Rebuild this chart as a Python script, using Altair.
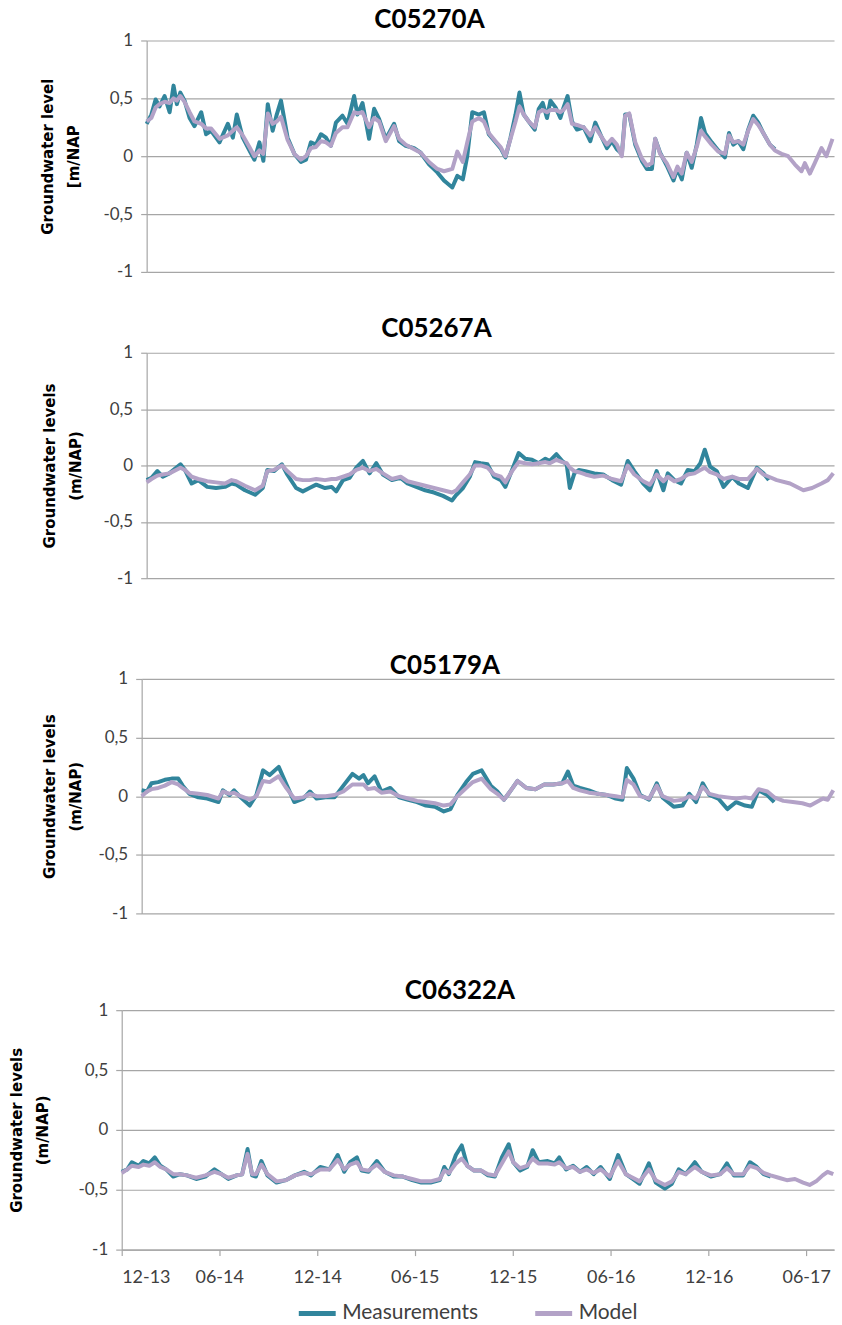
import altair as alt
import pandas as pd

# ---------------- data (x = months since 1 Dec 2013, y = m NAP) ----------------
SERIES = ["Measurements", "Model"]
COLORS = ["#31859C", "#B3A2C7"]
PANELS = ["C05270A", "C05267A", "C05179A", "C06322A"]
X_TICKS = ["12-13", "06-14", "12-14", "06-15", "12-15", "06-16", "12-16", "06-17"]
Y_TICKS = [-1, -0.5, 0, 0.5, 1]

p1_month = [0, 0.3, 0.57, 0.82, 1.14, 1.46, 1.71, 1.92, 2.14, 2.41,
            2.73, 3.04, 3.47, 3.78, 4.1, 4.63, 5.16, 5.48, 5.73, 6.11,
            6.53, 6.85, 7.17, 7.42, 7.70, 8.01, 8.27, 8.54, 8.96, 9.39,
            9.81, 10.13, 10.44, 10.76, 11.08, 11.4, 11.71, 12.03, 12.45, 12.77,
            13.19, 13.40, 13.72, 14.14, 14.46, 14.78, 15.2, 15.73, 16.05, 16.47,
            17.0, 17.42, 17.95, 18.48, 18.9, 19.43, 19.75, 20.1, 20.38, 20.7,
            21.12, 21.44, 21.75, 22.18, 22.5, 22.81, 23.13, 23.45, 23.7, 23.97,
            24.29, 24.67, 24.93, 25.18, 25.45, 25.67, 26.0, 26.3, 26.5, 26.76,
            27.04, 27.36, 27.78, 28.2, 28.52, 28.94, 29.26, 29.58, 29.89, 30.21,
            30.42, 30.68, 31.06, 31.48, 31.8, 32.12, 32.33, 32.64, 33.06, 33.49,
            33.74, 34.02, 34.33, 34.65, 34.97, 35.24, 35.5, 35.92, 36.34, 36.76,
            37.02, 37.29, 37.61, 37.93, 38.24, 38.56, 38.88, 39.2, 39.62, 39.94,
            40.36, 40.78, 41.2, 41.63, 41.84, 42.16, 42.47, 42.9, 43.21, 43.6]
p1_meas = [0.28, 0.36, 0.49, 0.43, 0.52, 0.38, 0.61, 0.45, 0.55, 0.48,
           0.33, 0.26, 0.38, 0.19, 0.22, 0.12, 0.28, 0.16, 0.36, 0.16,
           0.05, -0.03, 0.12, -0.04, 0.45, 0.22, 0.36, 0.48, 0.16, 0.02,
           -0.05, -0.03, 0.12, 0.10, 0.19, 0.16, 0.09, 0.29, 0.35, 0.28,
           0.52, 0.36, 0.46, 0.15, 0.41, 0.32, 0.15, 0.28, 0.13, 0.09,
           0.07, 0.03, -0.07, -0.14, -0.21, -0.27, -0.17, -0.2, 0.0, 0.38,
           0.36, 0.38, 0.19, 0.12, 0.07, -0.01, 0.16, 0.36, 0.55, 0.36,
           0.30, 0.23, 0.41, 0.46, 0.33, 0.48, 0.42, 0.33, 0.42, 0.52,
           0.30, 0.23, 0.25, 0.13, 0.29, 0.16, 0.07, 0.13, 0.06, 0.02,
           0.36, 0.36, 0.10, -0.04, -0.11, -0.11, 0.15, 0.03, -0.08, -0.21,
           -0.11, -0.2, 0.03, -0.1, 0.1, 0.33, 0.2, 0.12, 0.05, -0.01,
           0.2, 0.1, 0.13, 0.06, 0.23, 0.35, 0.29, 0.2, 0.10, 0.06,
           None, None, None, None, None, None, None, None, None, None]
p1_model = [0.30, 0.33, 0.42, 0.45, 0.47, 0.46, 0.50, 0.48, 0.52, 0.47,
            0.38, 0.30, 0.28, 0.24, 0.24, 0.15, 0.18, 0.22, 0.25, 0.18,
            0.08, 0.00, 0.05, 0.02, 0.37, 0.28, 0.30, 0.34, 0.14, 0.02,
            -0.03, 0.00, 0.07, 0.08, 0.13, 0.12, 0.09, 0.20, 0.25, 0.25,
            0.38, 0.37, 0.38, 0.25, 0.33, 0.30, 0.13, 0.26, 0.15, 0.10,
            0.06, 0.03, -0.05, -0.11, -0.13, -0.11, 0.04, -0.05, 0.12, 0.30,
            0.33, 0.30, 0.20, 0.13, 0.08, 0.00, 0.15, 0.30, 0.43, 0.36,
            0.30, 0.25, 0.38, 0.40, 0.38, 0.40, 0.40, 0.38, 0.40, 0.45,
            0.28, 0.27, 0.25, 0.18, 0.25, 0.16, 0.10, 0.15, 0.10, 0.00,
            0.35, 0.37, 0.12, -0.02, -0.08, -0.06, 0.15, 0.02, -0.06, -0.18,
            -0.09, -0.15, 0.03, -0.05, 0.08, 0.22, 0.17, 0.10, 0.04, 0.02,
            0.18, 0.12, 0.13, 0.10, 0.22, 0.32, 0.27, 0.20, 0.10, 0.05,
            0.02, 0.00, -0.07, -0.13, -0.06, -0.15, -0.06, 0.07, 0.00, 0.15]

p2_month = [0, 0.31, 0.68, 1.02, 1.44, 2.15, 2.43, 2.86, 3.28, 3.85,
            4.41, 4.98, 5.4, 5.69, 6.25, 6.9, 7.38, 7.67, 8.09, 8.6,
            8.94, 9.5, 9.93, 10.35, 10.78, 11.34, 11.76, 12.05, 12.48, 12.9,
            13.32, 13.75, 14.17, 14.6, 15.02, 15.59, 16.15, 16.58, 17.14, 17.71,
            18.27, 18.84, 19.41, 19.69, 20.11, 20.54, 20.88, 21.24, 21.67, 22.09,
            22.52, 22.8, 23.23, 23.65, 24.07, 24.5, 24.92, 25.35, 25.63, 26.05,
            26.42, 26.7, 26.9, 27.19, 27.47, 27.89, 28.46, 29.02, 29.59, 30.16,
            30.58, 31.0, 31.57, 31.99, 32.42, 32.85, 33.13, 33.55, 33.97, 34.4,
            34.83, 35.2, 35.48, 35.82, 36.24, 36.67, 37.23, 37.65, 38.22, 38.79,
            39.21, 39.55,
            40.06, 40.9, 41.75, 42.3, 42.9, 43.3, 43.65]
p2_meas = [-0.13, -0.11, -0.05, -0.10, -0.07, 0.01, -0.04, -0.16, -0.13, -0.19,
           -0.20, -0.19, -0.16, -0.17, -0.22, -0.26, -0.20, -0.04, -0.05, 0.01,
           -0.08, -0.20, -0.23, -0.20, -0.17, -0.20, -0.19, -0.23, -0.13, -0.11,
           -0.02, 0.04, -0.07, 0.02, -0.08, -0.13, -0.11, -0.16, -0.19, -0.22,
           -0.24, -0.27, -0.31, -0.26, -0.20, -0.10, 0.03, 0.02, 0.01, -0.10,
           -0.13, -0.19, -0.04, 0.11, 0.06, 0.05, 0.02, 0.06, 0.04, 0.10,
           0.04, 0.01, -0.20, -0.07, -0.04, -0.05, -0.07, -0.08, -0.13, -0.17,
           0.04, -0.05, -0.16, -0.22, -0.05, -0.22, -0.07, -0.13, -0.16, -0.04,
           -0.05, 0.02, 0.14, -0.01, -0.05, -0.19, -0.10, -0.16, -0.20, -0.02,
           -0.07, -0.13,
           None, None, None, None, None, None, None]
p2_model = [-0.15, -0.12, -0.09, -0.08, -0.07, -0.02, -0.04, -0.10, -0.12, -0.14,
            -0.15, -0.16, -0.13, -0.14, -0.18, -0.22, -0.18, -0.05, -0.04, 0.00,
            -0.05, -0.12, -0.13, -0.13, -0.12, -0.13, -0.12, -0.12, -0.10, -0.08,
            -0.04, -0.02, -0.05, -0.03, -0.07, -0.12, -0.10, -0.14, -0.16, -0.18,
            -0.20, -0.22, -0.24, -0.22, -0.15, -0.08, 0.00, 0.00, -0.02, -0.08,
            -0.10, -0.15, -0.05, 0.03, 0.02, 0.01, 0.02, 0.03, 0.02, 0.05,
            0.03, 0.02, -0.02, -0.05, -0.06, -0.08, -0.10, -0.09, -0.12, -0.14,
            0.00, -0.08, -0.14, -0.17, -0.08, -0.14, -0.10, -0.14, -0.12, -0.08,
            -0.07, -0.04, -0.02, -0.06, -0.08, -0.12, -0.10, -0.12, -0.12, -0.03,
            -0.08, -0.10,
            -0.13, -0.16, -0.22, -0.20, -0.16, -0.13, -0.07]

p3_month = [0, 0.34, 0.62, 1.04, 1.46, 1.89, 2.31, 2.59, 3.01, 3.58,
            4.14, 4.85, 5.13, 5.55, 5.83, 6.25, 6.82, 7.24, 7.66, 8.08,
            8.65, 9.07, 9.63, 10.2, 10.62, 11.04, 11.61, 12.17, 12.73, 13.3,
            13.72, 14.0, 14.28, 14.7, 15.13, 15.69, 16.25, 16.82, 17.38, 17.94,
            18.51, 19.07, 19.49, 19.92, 20.48, 20.9, 21.46, 22.03, 22.45, 22.87,
            23.3, 23.72, 24.28, 24.85, 25.41, 25.97, 26.54, 26.9, 27.24, 27.66,
            28.23, 28.79, 29.35, 29.92, 30.34, 30.62, 31.04, 31.46, 32.03, 32.51,
            32.87, 33.58, 34.14, 34.56, 34.99, 35.41, 35.83, 36.39, 36.96, 37.52,
            38.08, 38.51, 38.93, 39.49, 39.92,
            40.5, 41.1, 41.7, 42.2, 42.6, 43.0, 43.3, 43.65]
p3_meas = [0.05, 0.04, 0.11, 0.12, 0.14, 0.15, 0.15, 0.09, 0.02, -0.01,
           -0.02, -0.05, 0.05, 0.01, 0.05, -0.01, -0.08, 0.01, 0.22, 0.18,
           0.25, 0.12, -0.05, -0.02, 0.04, -0.02, -0.01, -0.01, 0.09, 0.19,
           0.15, 0.18, 0.11, 0.17, 0.04, 0.07, -0.01, -0.03, -0.05, -0.08,
           -0.09, -0.13, -0.11, 0.01, 0.12, 0.19, 0.22, 0.09, 0.04, -0.03,
           0.05, 0.13, 0.07, 0.06, 0.10, 0.10, 0.11, 0.21, 0.09, 0.07,
           0.05, 0.02, 0.01, -0.02, -0.03, 0.24, 0.15, 0.01, -0.03, 0.11,
           -0.01, -0.09, -0.08, 0.02, -0.05, 0.11, 0.01, -0.02, -0.11, -0.05,
           -0.08, -0.09, 0.05, 0.01, -0.05,
           None, None, None, None, None, None, None, None]
p3_model = [0.00, 0.04, 0.06, 0.07, 0.09, 0.12, 0.10, 0.07, 0.03, 0.02,
            0.01, -0.02, 0.04, 0.02, 0.03, 0.00, -0.03, 0.00, 0.13, 0.12,
            0.17, 0.08, -0.02, -0.01, 0.02, 0.00, 0.00, 0.01, 0.04, 0.10,
            0.10, 0.10, 0.06, 0.07, 0.03, 0.04, 0.00, -0.02, -0.04, -0.05,
            -0.06, -0.08, -0.07, 0.00, 0.07, 0.12, 0.15, 0.06, 0.02, -0.03,
            0.05, 0.13, 0.07, 0.06, 0.10, 0.10, 0.11, 0.13, 0.07, 0.05,
            0.03, 0.02, 0.01, 0.00, -0.01, 0.14, 0.10, 0.00, -0.02, 0.09,
            0.00, -0.04, -0.03, 0.00, -0.02, 0.08, 0.02, 0.00, -0.01, -0.02,
            -0.01, -0.02, 0.06, 0.04, -0.01,
            -0.04, -0.05, -0.06, -0.08, -0.05, -0.02, -0.03, 0.05]

p4_month = [0, 0.34, 0.62, 1.04, 1.33, 1.69, 2.03, 2.37, 2.73, 3.16,
            3.58, 4.0, 4.57, 5.13, 5.69, 6.12, 6.54, 7.05, 7.39, 7.72,
            8.0, 8.23, 8.57, 8.94, 9.5, 10.06, 10.63, 11.19, 11.62, 12.18,
            12.74, 13.25, 13.65, 14.01, 14.43, 14.72, 15.14, 15.65, 16.13, 16.69,
            17.25, 17.82, 18.38, 18.95, 19.51, 19.79, 20.07, 20.5, 20.86, 21.2,
            21.62, 22.05, 22.47, 22.89, 23.32, 23.74, 24.02, 24.44, 24.87, 25.21,
            25.57, 26.13, 26.56, 26.84, 27.26, 27.69, 28.11, 28.53, 28.95, 29.38,
            29.94, 30.45, 30.93, 31.35, 31.77, 32.34, 32.76, 33.32, 33.75, 34.17,
            34.59, 35.16, 35.58, 36.14, 36.71, 37.13, 37.55, 38.12, 38.54, 38.96,
            39.38, 39.81,
            40.3, 40.8, 41.3, 41.8, 42.2, 42.6, 43.0, 43.3, 43.65]
p4_meas = [-0.35, -0.33, -0.27, -0.30, -0.26, -0.28, -0.23, -0.30, -0.33, -0.39,
           -0.37, -0.38, -0.41, -0.39, -0.33, -0.37, -0.41, -0.38, -0.37, -0.16,
           -0.38, -0.39, -0.26, -0.38, -0.44, -0.42, -0.38, -0.35, -0.38, -0.31,
           -0.33, -0.21, -0.35, -0.27, -0.23, -0.34, -0.35, -0.26, -0.35, -0.39,
           -0.39, -0.42, -0.44, -0.44, -0.42, -0.31, -0.37, -0.21, -0.13, -0.30,
           -0.34, -0.34, -0.38, -0.39, -0.23, -0.12, -0.27, -0.34, -0.31, -0.17,
           -0.27, -0.26, -0.28, -0.23, -0.33, -0.30, -0.35, -0.31, -0.37, -0.31,
           -0.41, -0.21, -0.37, -0.41, -0.45, -0.28, -0.44, -0.49, -0.45, -0.33,
           -0.37, -0.27, -0.35, -0.39, -0.37, -0.28, -0.38, -0.38, -0.27, -0.31,
           -0.37, -0.39,
           None, None, None, None, None, None, None, None, None]
p4_model = [-0.36, -0.33, -0.30, -0.31, -0.29, -0.30, -0.27, -0.31, -0.33, -0.37,
            -0.37, -0.38, -0.40, -0.38, -0.35, -0.37, -0.40, -0.38, -0.37, -0.20,
            -0.37, -0.37, -0.29, -0.37, -0.43, -0.42, -0.38, -0.36, -0.37, -0.33,
            -0.33, -0.25, -0.33, -0.29, -0.27, -0.33, -0.34, -0.29, -0.35, -0.38,
            -0.39, -0.41, -0.43, -0.43, -0.41, -0.34, -0.36, -0.28, -0.24, -0.30,
            -0.34, -0.34, -0.37, -0.38, -0.28, -0.18, -0.27, -0.32, -0.30, -0.24,
            -0.28, -0.28, -0.29, -0.27, -0.32, -0.31, -0.35, -0.33, -0.36, -0.33,
            -0.39, -0.26, -0.37, -0.40, -0.43, -0.33, -0.42, -0.46, -0.43, -0.35,
            -0.37, -0.31, -0.35, -0.38, -0.37, -0.32, -0.37, -0.37, -0.30, -0.32,
            -0.36, -0.38,
            -0.40, -0.42, -0.41, -0.44, -0.46, -0.43, -0.38, -0.35, -0.37]

# ---------------- helpers ----------------
START = pd.Timestamp("2013-12-01")
DAYS_PER_MONTH = 30.4375
GRID = "#A6A6A6"
LABEL = "#404040"
SPACER_DF = pd.DataFrame({"v": [0]})


def frame(months, values, series):
    rows = [(START + pd.Timedelta(days=m * DAYS_PER_MONTH), v)
            for m, v in zip(months, values) if v is not None]
    return pd.DataFrame({"date": [r[0] for r in rows],
                         "value": [r[1] for r in rows],
                         "series": series})


tick_dates = [alt.DateTime(year=2013 + (11 + 6 * i) // 12,
                           month=(11 + 6 * i) % 12 + 1, date=1)
              for i in range(len(X_TICKS))]
x_scale = alt.Scale(domain=[alt.DateTime(year=2013, month=12, date=1),
                            alt.DateTime(year=2017, month=7, date=23)])
color_scale = alt.Scale(domain=SERIES, range=COLORS)


def spacer(w):
    # empty, invisible cell that only sets the left margin of a row
    return alt.Chart(SPACER_DF).mark_point(opacity=0, size=1).encode(
        x=alt.value(1), y=alt.value(0)).properties(width=w, height=1)


def panel(name, months, meas, model, width, height, ytitle, title_x,
          title_dx, title_offset, last=False):
    yaxis = alt.Axis(values=Y_TICKS,
                     labelExpr="replace(toString(datum.value), '.', ',')",
                     grid=True, gridColor=GRID, gridWidth=1.2,
                     domainColor=GRID, domainWidth=1.2,
                     tickColor=GRID, tickSize=6, tickWidth=1.2,
                     labelPadding=8, labelFont="Lato", labelFontSize=17,
                     labelColor=LABEL,
                     title=ytitle, titleFont="DejaVu Sans",
                     titleFontWeight="bold", titleFontSize=15,
                     titleLineHeight=26, titleX=title_x,
                     titleBaseline="top", titleAlign="center",
                     titleAngle=270, titleColor="black")
    if last:
        xaxis = alt.Axis(values=tick_dates, format="%m-%y", grid=False,
                         tickSize=6, tickColor=GRID, tickWidth=1.2,
                         domainColor=GRID, domainWidth=1.2,
                         labelFont="Lato", labelFontSize=18, labelColor=LABEL,
                         labelPadding=13, title=None)
        legend = alt.Legend(orient="none", legendX=175, legendY=283,
                            direction="horizontal", title=None,
                            symbolType="stroke", symbolSize=1369,
                            symbolStrokeWidth=5, labelFont="Lato",
                            labelFontSize=21, labelColor=LABEL,
                            labelOffset=4, columnPadding=46)
    else:
        xaxis = None
        legend = None
    x = alt.X("date:T", scale=x_scale, axis=xaxis)
    y = alt.Y("value:Q", scale=alt.Scale(domain=[-1, 1], nice=False), axis=yaxis)
    color = alt.Color("series:N", scale=color_scale, legend=legend)
    meas_line = alt.Chart(frame(months, meas, SERIES[0])).mark_line(
        strokeWidth=4, strokeJoin="round").encode(x=x, y=y, color=color)
    model_line = alt.Chart(frame(months, model, SERIES[1])).mark_line(
        strokeWidth=4, strokeJoin="round").encode(x=x, y=y, color=color)
    return alt.layer(meas_line, model_line).properties(
        width=width, height=height,
        title=alt.TitleParams(name, font="Lato", fontSize=26,
                              fontWeight="bold", color="black",
                              anchor="middle", frame="group", dx=title_dx,
                              offset=title_offset))


def row(space, chart):
    return alt.hconcat(spacer(space), chart, spacing=0).resolve_scale(color="independent")


c1 = panel(PANELS[0], p1_month, p1_meas, p1_model, 689, 232,
           ["Groundwater level", "[m/NAP"], -106, -61, -1)
c2 = panel(PANELS[1], p2_month, p2_meas, p2_model, 689, 226,
           ["Groundwater levels", "(m/NAP)"], -104, -54, 2)
c3 = panel(PANELS[2], p3_month, p3_meas, p3_model, 694, 235,
           ["Groundwater levels", "(m/NAP)"], -99, -43, -9)
c4 = panel(PANELS[3], p4_month, p4_meas, p4_model, 714, 240,
           ["Groundwater levels", "(m/NAP)"], -112, -18, -3, last=True)

upper = alt.vconcat(row(41, c1), row(43, c2), spacing=36).resolve_scale(color="independent")
lower = alt.vconcat(row(43, c3), row(10, c4), spacing=57).resolve_scale(color="independent")
chart = alt.vconcat(upper, lower, spacing=67).resolve_scale(
    color="independent").properties(
    padding={"left": 0, "top": 5, "right": 6, "bottom": 0}
).configure_view(stroke=None)

chart.save("out.html", embed_options={"renderer": "svg", "actions": False})
